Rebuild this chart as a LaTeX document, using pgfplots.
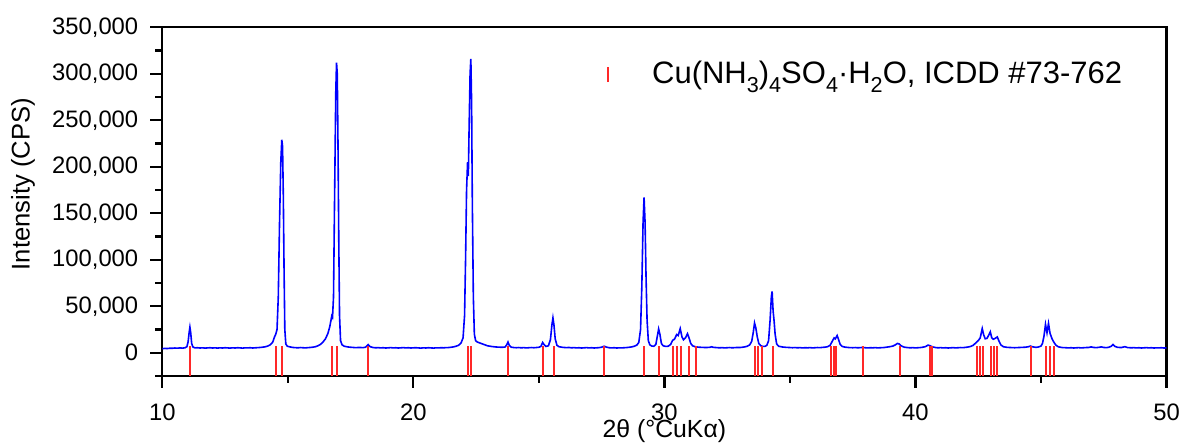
\documentclass[border=0pt]{standalone}
\usepackage{fontspec}
\setmainfont{Liberation Sans}
\usepackage{pgfplots}
\pgfplotsset{compat=1.18}
\usepackage{pgfplotstable}
\newcommand\sub[1]{\raisebox{-0.3em}{\fontsize{10.8}{12}\selectfont #1}}

\pgfplotstableread{
x y
10.00 4300
10.10 4700
10.20 4500
10.30 4900
10.40 4800
10.50 5100
10.60 4900
10.70 5200
10.80 5000
10.90 5300
10.98 6500
11.03 12000
11.07 22000
11.10 27500
11.13 22000
11.17 10000
11.22 6200
11.30 5200
11.40 5400
11.50 5100
11.60 5300
11.70 5000
11.80 5200
11.90 5400
12.00 5100
12.10 5300
12.20 5000
12.30 5300
12.40 5100
12.50 5400
12.60 5200
12.70 5000
12.80 5300
12.90 5100
13.00 5400
13.10 5200
13.20 5000
13.30 5300
13.40 5200
13.50 5400
13.60 5100
13.70 5300
13.80 5500
13.90 5700
14.00 6000
14.10 6400
14.20 7200
14.30 8500
14.40 11500
14.47 17000
14.52 20000
14.57 25000
14.62 60000
14.67 140000
14.72 205000
14.76 229000
14.79 222000
14.82 170000
14.85 90000
14.88 25000
14.92 9500
14.98 7000
15.10 6200
15.20 5700
15.30 5500
15.40 5300
15.50 5600
15.60 5400
15.70 5200
15.80 5500
15.90 5700
16.00 6000
16.10 6500
16.20 7500
16.30 9000
16.40 11500
16.50 15000
16.60 21000
16.67 28000
16.72 35000
16.75 39500
16.78 38000
16.82 60000
16.86 160000
16.91 280000
16.94 312000
16.97 300000
17.00 220000
17.03 120000
17.06 40000
17.10 13000
17.16 8500
17.25 7000
17.40 6200
17.55 5800
17.70 5500
17.85 5700
18.00 5500
18.10 6000
18.20 8800
18.28 6500
18.40 5600
18.50 5300
18.60 5500
18.70 5200
18.80 5400
18.90 5100
19.00 5300
19.10 5500
19.20 5200
19.30 5400
19.40 5100
19.50 5300
19.60 5500
19.70 5200
19.80 5400
19.90 5100
20.00 5300
20.10 5400
20.20 5200
20.30 5000
20.40 5300
20.50 5100
20.60 5400
20.70 5200
20.80 5000
20.90 5300
21.00 5200
21.10 5400
21.20 5300
21.30 5500
21.40 5600
21.50 5900
21.60 6300
21.70 7000
21.80 8000
21.90 10500
21.98 16000
22.04 40000
22.08 100000
22.12 175000
22.16 205000
22.19 190000
22.22 240000
22.26 300000
22.29 316000
22.32 270000
22.35 160000
22.39 60000
22.43 20000
22.48 13000
22.55 11500
22.65 10500
22.75 9500
22.85 8500
22.95 7500
23.10 6800
23.25 6300
23.40 6000
23.55 5900
23.65 6100
23.72 8500
23.77 11500
23.82 8000
23.90 6000
24.00 5600
24.10 5400
24.20 5600
24.30 5300
24.40 5500
24.50 5200
24.60 5400
24.70 5600
24.80 5400
24.90 5600
25.00 5900
25.08 6800
25.15 11000
25.20 9000
25.28 6800
25.38 7500
25.46 14000
25.52 30000
25.56 37500
25.60 30000
25.65 15000
25.72 8000
25.80 6500
25.95 5800
26.10 5500
26.20 5700
26.30 5300
26.40 5500
26.50 5200
26.60 5400
26.70 5100
26.80 5300
26.90 5500
27.00 5200
27.10 5400
27.20 5100
27.30 5300
27.40 5500
27.50 6000
27.60 7000
27.70 6000
27.80 5400
27.90 5200
28.00 5400
28.10 5100
28.20 5300
28.30 5200
28.40 5400
28.50 5600
28.60 5900
28.70 6300
28.80 7000
28.90 8200
28.98 11000
29.05 25000
29.10 70000
29.15 140000
29.19 167000
29.23 140000
29.27 80000
29.31 35000
29.36 13000
29.42 8500
29.50 7200
29.58 7000
29.66 9000
29.72 18000
29.77 25500
29.82 20000
29.88 10000
29.95 7500
30.05 6800
30.15 7000
30.25 9000
30.33 13500
30.40 14500
30.49 19600
30.55 18500
30.63 26000
30.70 17000
30.76 14000
30.84 16000
30.92 20500
30.98 16000
31.05 10000
31.12 7500
31.22 6500
31.35 6000
31.50 5800
31.65 5600
31.80 5800
31.88 6400
31.95 5800
32.10 5500
32.20 5300
32.30 5500
32.40 5200
32.50 5400
32.60 5600
32.70 5300
32.80 5500
32.90 5700
33.00 5600
33.10 5900
33.20 6300
33.30 7000
33.40 8500
33.48 12500
33.54 22000
33.59 32000
33.64 27000
33.70 17000
33.76 10000
33.84 7500
33.92 6800
34.00 6800
34.08 8000
34.15 13000
34.21 35000
34.26 60000
34.29 66000
34.33 45000
34.37 34000
34.41 20000
34.47 9500
34.55 7000
34.70 6200
34.85 5800
35.00 5600
35.10 5400
35.20 5600
35.30 5300
35.40 5500
35.50 5200
35.60 5400
35.70 5300
35.80 5500
35.90 5200
36.00 5400
36.10 5600
36.20 5500
36.30 5800
36.40 6000
36.50 6500
36.60 8000
36.68 12000
36.76 16000
36.81 15000
36.88 18500
36.94 14000
37.00 9000
37.08 6800
37.20 6000
37.35 5600
37.50 5400
37.60 5600
37.70 5300
37.80 5500
37.90 5700
38.00 5400
38.10 5200
38.20 5400
38.30 5300
38.40 5500
38.50 5200
38.60 5400
38.70 5500
38.80 5800
38.90 6200
39.00 6600
39.10 7200
39.20 8500
39.28 10000
39.35 9500
39.43 7500
39.55 6000
39.70 5500
39.80 5300
39.90 5500
40.00 5200
40.10 5400
40.20 5600
40.30 6000
40.40 6600
40.50 8200
40.58 7600
40.68 6300
40.80 5600
40.90 5300
41.00 5500
41.10 5200
41.20 5400
41.30 5100
41.40 5300
41.50 5500
41.60 5200
41.70 5400
41.80 5600
41.90 5500
42.00 5800
42.10 6200
42.20 6800
42.30 8000
42.40 10500
42.50 13000
42.58 16000
42.66 26000
42.72 19000
42.78 15000
42.85 15500
42.92 19000
42.98 22500
43.04 16000
43.10 14500
43.18 15500
43.26 17000
43.32 13000
43.40 8500
43.50 6500
43.65 5800
43.80 5600
43.95 5400
44.10 5600
44.25 5800
44.40 6000
44.50 6500
44.58 7200
44.66 6400
44.80 5800
44.90 6200
45.00 7200
45.06 10000
45.12 18000
45.18 30500
45.24 21500
45.30 31500
45.36 21000
45.44 15000
45.52 11000
45.60 8000
45.70 6300
45.85 5600
46.00 5400
46.10 5200
46.20 5400
46.30 5100
46.40 5300
46.50 5500
46.60 5200
46.70 5400
46.80 5600
46.90 5700
47.00 6300
47.10 5700
47.20 5500
47.30 5800
47.40 6300
47.50 5700
47.60 5500
47.70 5900
47.80 7000
47.87 8800
47.95 6800
48.05 5800
48.20 5600
48.34 6500
48.45 5600
48.60 5300
48.70 5500
48.80 5200
48.90 5400
49.00 5100
49.10 5300
49.20 5500
49.30 5200
49.40 5400
49.50 5100
49.60 5300
49.70 5200
49.80 5400
49.90 5100
50.00 5300
}\xrd

\pgfplotstableread{
x top
11.10 7000
14.53 7000
14.78 7000
16.76 7000
16.97 7000
18.20 7000
22.16 7000
22.29 7000
23.76 7000
25.17 7000
25.59 7000
27.60 7000
29.19 7000
29.78 7000
30.33 7000
30.50 7000
30.67 7000
30.98 7000
31.25 7000
33.62 7000
33.72 7000
33.89 7000
34.31 7000
36.62 7000
36.75 7000
36.84 7000
37.93 7000
39.37 7000
40.59 7000
40.67 7000
42.47 7000
42.59 7000
42.70 7000
43.02 7000
43.12 7000
43.26 7000
44.60 7000
45.20 7000
45.35 7000
45.53 7000
}\sticks

\definecolor{stickred}{RGB}{255,40,40}

\begin{document}
\begin{tikzpicture}
\begin{axis}[
  scale only axis, width=502.1pt, height=174.35pt,
  xmin=10, xmax=50, ymin=-25000, ymax=350000,
  xtick={10,20,30,40,50}, minor xtick={15,25,35,45},
  ytick={0,50000,...,350000}, minor ytick={-25000,25000,...,325000},
  xtick pos=bottom, ytick pos=left, tick align=outside,
  major tick length=6pt, minor tick length=3.5pt,
  every tick/.style={black, line width=1.1pt},
  axis line style={line width=1.1pt},
  scaled y ticks=false,
  /pgf/number format/fixed,
  /pgf/number format/1000 sep={,},
  /pgf/number format/assume math mode=true,
  tick label style={font=\fontsize{11.9}{14}\selectfont},
  yticklabel style={xshift=-2.5pt},
  xticklabel style={inner sep=0pt, yshift=-7.5pt},
  ylabel style={font=\fontsize{12.8}{14}\selectfont},
  xlabel style={font=\fontsize{12.4}{14}\selectfont},
  xlabel={2θ (°CuKα)},
  ylabel={Intensity (CPS)},
  xlabel style={at={(rel axis cs:0.5,0)}, anchor=base, inner sep=0pt, yshift=-30.9pt},
  ylabel style={at={(rel axis cs:0,0.55)}, anchor=center, yshift=69.6pt},
  legend style={draw=none, fill=none, at={(rel axis cs:0.4428,0.867)}, anchor=west,
    font=\fontsize{15.5}{18}\selectfont, inner sep=0pt},
  clip=true,
]
\addplot[blue, line width=0.8pt, forget plot] table {\xrd};
\addplot[stickred, draw=none, mark=none, forget plot,
  error bars/.cd, y dir=minus, y fixed=32000, error mark=none,
  error bar style={stickred, line width=1pt}]
  table[x=x, y=top] {\sticks};
\addlegendimage{stickred, line width=0.9pt,
  legend image code/.code={\draw[stickred, line width=0.8pt] (0pt,-4.25pt) -- (0pt,3.25pt); \path[draw=none, fill=none] (0pt,0pt) -- (20pt,0pt);}}
\addlegendentry{Cu(NH\sub{3})\sub{4}SO\sub{4}·H\sub{2}O, ICDD \#73-762}
\end{axis}
\pgfresetboundingbox
\path (current axis.south west) ++(-81.15pt,-33.5pt) rectangle ++(591.5pt,221.5pt);
\end{tikzpicture}
\end{document}
